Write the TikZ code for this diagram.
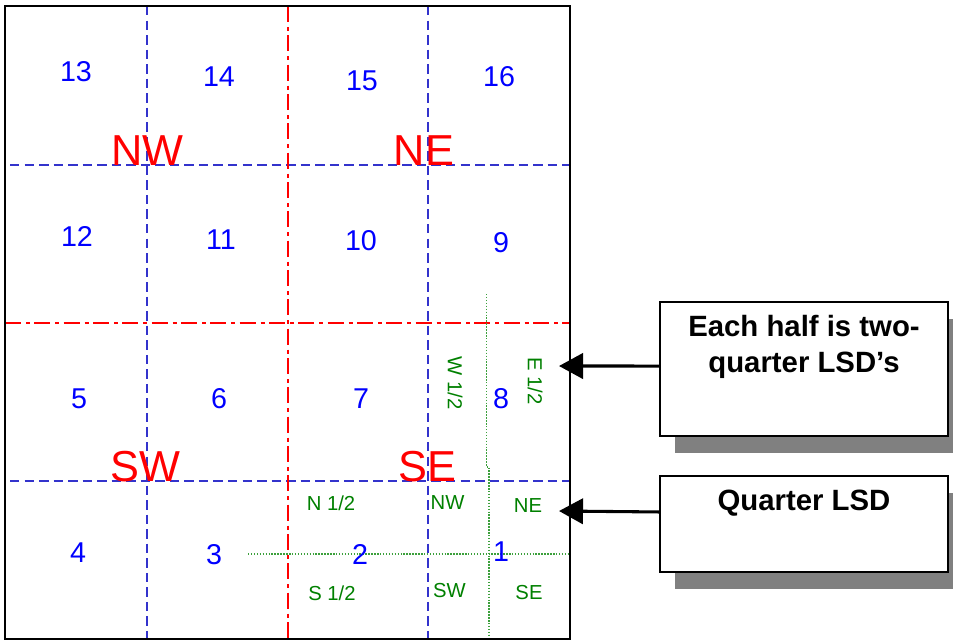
\documentclass[tikz,border=0pt]{standalone}
\usepackage{fontspec}
\setmainfont{Liberation Sans}
\usetikzlibrary{arrows.meta,shadows}
\definecolor{gridblue}{RGB}{51,51,204}
\definecolor{numblue}{RGB}{0,0,255}
\definecolor{halfred}{RGB}{255,0,0}
\definecolor{lsdgreen}{RGB}{0,128,0}
\definecolor{dotgreen}{RGB}{60,160,60}
\definecolor{shadowgray}{RGB}{128,128,128}
\begin{document}
\begin{tikzpicture}[x=0.75pt,y=-0.75pt,
  frame/.style={line width=1.5pt, draw=black},
  quarterline/.style={draw=gridblue, line width=1.3pt, dash pattern=on 7.1pt off 3.8pt},
  halfline/.style={draw=halfred, line width=1.3pt, dash pattern=on 12pt off 3.75pt on 3pt off 3.25pt},
  lsdline/.style={draw=dotgreen, line width=0.9pt, dash pattern=on 1.1pt off 1.1pt},
  num/.style={text=numblue, font=\fontsize{21.5}{24}\selectfont, inner sep=0pt},
  quad/.style={text=halfred, font=\fontsize{32.5}{36}\selectfont, inner sep=0pt, anchor=base},
  lsd/.style={text=lsdgreen, font=\fontsize{15.2}{17}\selectfont, inner sep=0pt},
  callout/.style={draw=black, line width=1.5pt, fill=white, minimum width=216pt, inner sep=0pt,
    drop shadow={shadow xshift=11.25pt, shadow yshift=-12.75pt, fill=shadowgray, opacity=1}},
  callouttext/.style={font=\fontsize{22}{27}\selectfont\bfseries, align=center, inner sep=0pt},
  pointer/.style={draw=black, line width=2.3pt, -{Triangle[length=18pt,width=19pt]}}
]
\useasboundingbox (0,0) rectangle (953,640);

% grid lines
\draw[quarterline] (147,6) -- (147,639);
\draw[quarterline] (428,6) -- (428,639);
\draw[quarterline] (10,165) -- (570,165);
\draw[quarterline] (10,481) -- (570,481);
\draw[halfline] (288,6) -- (288,639);
\draw[halfline] (5,323) -- (570,323);
\draw[lsdline] (486.5,294) -- (486.5,467) -- (489,467) -- (489,639);
\draw[lsdline] (248,554) -- (570,554);

% frame
\draw[frame] (5,6) rectangle (570,639);

% section numbers
\node[num] (n13) at (76,72) {13};
\node[num] (n14) at (219,77) {14};
\node[num] (n15) at (362,81) {15};
\node[num] (n16) at (499,77) {16};
\node[num] (n12) at (77,236) {12};
\node[num] (n11) at (221,240) {11};
\node[num] (n10) at (361,241) {10};
\node[num] (n9) at (501,243) {9};
\node[num] (n5) at (79,399) {5};
\node[num] (n6) at (219,399) {6};
\node[num] (n7) at (361,399) {7};
\node[num] (n8) at (501,399) {8};
\node[num] (n4) at (78,553) {4};
\node[num] (n3) at (214,555) {3};
\node[num] (n2) at (360,554) {2};
\node[num] (n1) at (501,552) {1};

% quarter labels
\node[quad] (qnw) at (147.5,165.5) {NW};
\node[quad] (qne) at (424,165.5) {NE};
\node[quad] (qsw) at (145,481.5) {SW};
\node[quad] (qse) at (427,481.5) {SE};

% LSD labels
\node[lsd, rotate=-90] (w12) at (455,383) {W 1/2};
\node[lsd, rotate=-90] (e12) at (535,381) {E 1/2};
\node[lsd] (n12h) at (331,503) {N 1/2};
\node[lsd] (s12h) at (332,593) {S 1/2};
\node[lsd] (lnw) at (447.5,503) {NW};
\node[lsd] (lne) at (528,506) {NE};
\node[lsd] (lsw) at (449.5,591) {SW};
\node[lsd] (lse) at (529,593) {SE};

% callouts
\node[callout, minimum height=100.5pt] (box1) at (804,368.7) {};
\node[callouttext] (t1) at (804,347) {Each half is two-\\quarter LSD’s};
\node[callout, minimum height=72pt] (box2) at (804,523.7) {};
\node[callouttext] (t2) at (804,503) {Quarter LSD};

\coordinate (tip1) at (559,366);
\coordinate (tip2) at (559,511);
\draw[pointer] ([yshift=2pt]box1.west) -- (tip1);
\draw[pointer] ([yshift=8.8pt]box2.west) -- (tip2);
\end{tikzpicture}
\end{document}
